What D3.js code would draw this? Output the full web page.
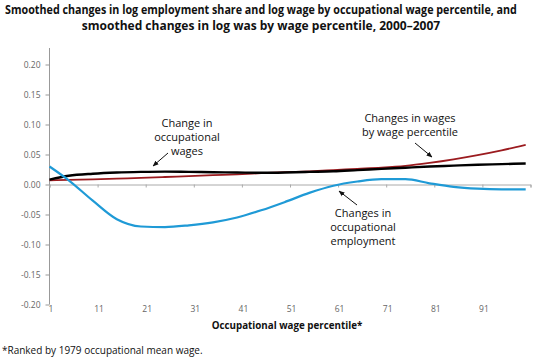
<!DOCTYPE html>
<html>
<head>
<meta charset="utf-8">
<script src="https://cdn.jsdelivr.net/npm/d3@7"></script>
<style>
  body { margin: 0; background: #fff; }
  text { font-family: 'Open Sans', sans-serif; }
</style>
</head>
<body>
<div id="chart"></div>
<script>
// percentile positions where the smoothed curves were read
const percentiles = [1, 5, 10, 15, 20, 25, 30, 35, 40, 45, 50, 55, 60, 65, 70, 75, 80, 85, 90, 95, 100]

// changes in occupational employment (blue)
const employment = [0.030, 0.007, -0.027, -0.058, -0.070, -0.071, -0.068, -0.063, -0.055, -0.043, -0.029,
  -0.014, -0.002, 0.005, 0.009, 0.009, 0.002, -0.004, -0.007, -0.008, -0.008]
// change in occupational wages (black)
const occWages = [0.008, 0.0145, 0.018, 0.020, 0.021, 0.0215, 0.021, 0.0205, 0.020, 0.0195, 0.020,
  0.021, 0.022, 0.024, 0.026, 0.028, 0.030, 0.0315, 0.033, 0.034, 0.035]
// changes in wages by wage percentile (red)
const pctWages = [0.007, 0.0078, 0.0085, 0.0098, 0.011, 0.0125, 0.014, 0.0155, 0.017, 0.0188, 0.0205,
  0.022, 0.024, 0.026, 0.028, 0.031, 0.036, 0.042, 0.049, 0.057, 0.066]

const xTicks = [1, 11, 21, 31, 41, 51, 61, 71, 81, 91]
const yTicks = [0.20, 0.15, 0.10, 0.05, 0.00, -0.05, -0.10, -0.15, -0.20]

const width = 550
const height = 361

const svg = d3.select('#chart')
  .append('svg')
  .attr('width', width)
  .attr('height', height)

const x = d3.scaleLinear().domain([1, 101]).range([49.5, 530.5])
const y = d3.scaleLinear().domain([-0.2, 0.2]).range([304.5, 64.5])

// title; the original face is narrow, so the long line is squeezed horizontally
const titleLines = [
  { text: 'Smoothed changes in log employment share and log wage by occupational wage percentile, and', y: 14, sx: 0.895 },
  { text: 'smoothed changes in log was by wage percentile, 2000–2007', y: 30, sx: 1 }
]
svg.selectAll('.title')
  .data(titleLines)
  .enter()
  .append('text')
  .attr('class', 'title')
  .attr('transform', d => 'translate(261,' + d.y + ') scale(' + d.sx + ',1)')
  .attr('text-anchor', 'middle')
  .attr('font-weight', 'bold')
  .attr('font-size', 12)
  .attr('fill', '#111')
  .text(d => d.text)

// y axis
const yAxis = svg.append('g')
  .attr('transform', 'translate(' + x(1) + ',0)')
  .call(d3.axisLeft(y).tickValues(yTicks).tickSize(4).tickPadding(5).tickFormat(d3.format('.2f')))
yAxis.select('.domain').attr('d', 'M0,48V' + y(-0.2)).attr('stroke', '#999')
yAxis.selectAll('.tick line').attr('stroke', '#999')
yAxis.selectAll('.tick text')
  .attr('fill', '#666')
  .attr('font-size', 8.5)
  .text(d => d3.format('.2f')(d).replace('−', '-'))

// zero line with category ticks
const xAxis = svg.append('g')
  .attr('transform', 'translate(0,' + y(0) + ')')
  .call(d3.axisBottom(x).tickValues(d3.range(1, 102, 10)).tickSize(3).tickFormat(''))
xAxis.select('.domain').attr('stroke', '#aaa')
xAxis.selectAll('.tick line').attr('stroke', '#aaa')

// x tick labels at the bottom
svg.append('g')
  .selectAll('text')
  .data(xTicks)
  .enter()
  .append('text')
  .attr('x', d => x(d) + 1.5)
  .attr('y', 312)
  .attr('text-anchor', 'middle')
  .attr('font-size', 8.5)
  .attr('fill', '#666')
  .text(d => d)

svg.append('text')
  .attr('transform', 'translate(287,329) scale(0.89,1)')
  .attr('text-anchor', 'middle')
  .attr('font-weight', 'bold')
  .attr('font-size', 11)
  .attr('fill', '#111')
  .text('Occupational wage percentile*')

svg.append('text')
  .attr('x', 2)
  .attr('y', 354)
  .attr('font-size', 10)
  .attr('fill', '#111')
  .text('*Ranked by 1979 occupational mean wage.')

// lines
const line = d3.line()
  .x((d, i) => x(percentiles[i]))
  .y(d => y(d))
  .curve(d3.curveMonotoneX)

const series = [
  { values: pctWages, color: '#9b1b1f', w: 1.8 },
  { values: occWages, color: '#000', w: 2.4 },
  { values: employment, color: '#1f9ad6', w: 2.2 }
]

svg.selectAll('.series')
  .data(series)
  .enter()
  .append('path')
  .attr('class', 'series')
  .attr('fill', 'none')
  .attr('stroke', d => d.color)
  .attr('stroke-width', d => d.w)
  .attr('d', d => line(d.values))

// annotations
svg.append('defs').append('marker')
  .attr('id', 'arrow')
  .attr('viewBox', '0 0 10 10')
  .attr('refX', 9)
  .attr('refY', 5)
  .attr('markerWidth', 6)
  .attr('markerHeight', 6)
  .attr('orient', 'auto')
  .append('path')
  .attr('d', 'M0,1L10,5L0,9z')
  .attr('fill', '#111')

const notes = [
  { lines: ['Change in', 'occupational', 'wages'], cx: 187, y0: 127, arrow: [168, 153, 153, 166] },
  { lines: ['Changes in wages', 'by wage percentile'], cx: 410, y0: 122, arrow: [415, 143, 432, 157] },
  { lines: ['Changes in', 'occupational', 'employment'], cx: 363, y0: 217, arrow: [357, 205, 339, 191] }
]

notes.forEach(n => {
  const t = svg.append('text')
    .attr('text-anchor', 'middle')
    .attr('font-size', 11)
    .attr('fill', '#111')
  n.lines.forEach((l, i) => {
    t.append('tspan').attr('x', n.cx).attr('y', n.y0 + i * 14).text(l)
  })
  svg.append('line')
    .attr('x1', n.arrow[0]).attr('y1', n.arrow[1])
    .attr('x2', n.arrow[2]).attr('y2', n.arrow[3])
    .attr('stroke', '#111')
    .attr('stroke-width', 1)
    .attr('marker-end', 'url(#arrow)')
})
</script>
</body>
</html>
